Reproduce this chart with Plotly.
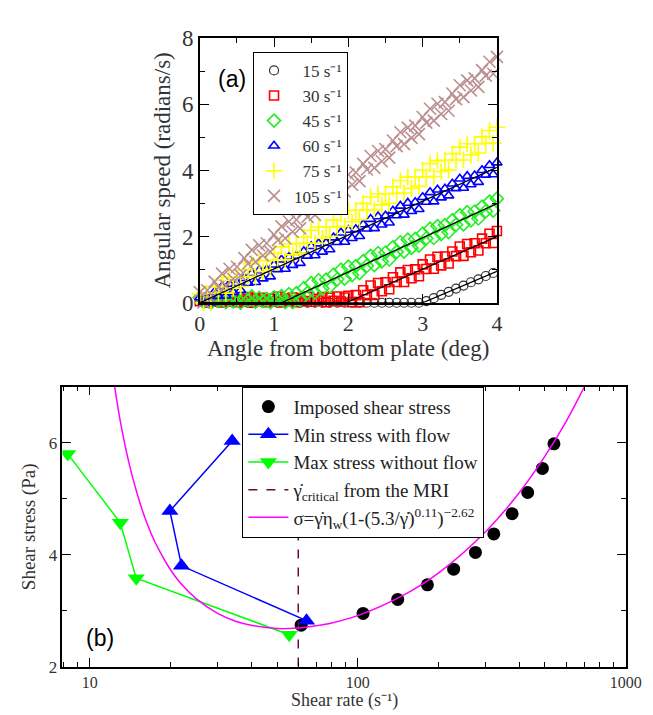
import plotly.graph_objects as go

# ---------------- Panel (a) data ----------------
angle = [round(0.05 * i, 2) for i in range(81)]
angle_15 = [round(0.05 + 0.1 * i, 2) for i in range(40)]

speed_15 = [0.0] * 30 + [0.05, 0.14, 0.24, 0.33, 0.43, 0.52, 0.62, 0.71, 0.81, 0.90]

speed_30 = [0.05, 0.14, 0.00, 0.10, 0.03, 0.16, 0.01, 0.12, 0.04, 0.15,
            0.02, 0.11, 0.05, 0.17, 0.00, 0.13, 0.06, 0.15, 0.02, 0.12,
            0.04, 0.18, 0.01, 0.13, 0.06, 0.16, 0.02, 0.14, 0.05, 0.18,
            0.03, 0.12, 0.07, 0.17, 0.02, 0.15, 0.06, 0.19, 0.04, 0.16,
            0.21, 0.02, 0.23, 0.02, 0.38, 0.23, 0.52, 0.24, 0.60, 0.35,
            0.62, 0.41, 0.77, 0.63, 0.92, 0.63, 0.99, 0.74, 1.01, 0.80,
            1.16, 1.02, 1.31, 1.03, 1.39, 1.13, 1.40, 1.19, 1.55, 1.41,
            1.70, 1.42, 1.78, 1.53, 1.80, 1.58, 1.94, 1.80, 2.09, 1.81, 2.17]

speed_45 = [0.16, 0.03, 0.12, 0.00, 0.15, 0.06, 0.18, 0.02, 0.14, 0.04,
            0.12, 0.00, 0.16, 0.07, 0.19, 0.03, 0.15, 0.05, 0.11, 0.01,
            0.16, 0.08, 0.20, 0.02, 0.26, 0.02, 0.29, 0.08, 0.44, 0.30,
            0.59, 0.31, 0.68, 0.43, 0.70, 0.49, 0.85, 0.71, 1.00, 0.73,
            1.09, 0.84, 1.11, 0.90, 1.26, 1.12, 1.42, 1.14, 1.50, 1.25,
            1.52, 1.31, 1.68, 1.54, 1.83, 1.55, 1.91, 1.66, 1.93, 1.73,
            2.09, 1.95, 2.24, 1.96, 2.32, 2.08, 2.35, 2.14, 2.50, 2.36,
            2.65, 2.37, 2.74, 2.49, 2.76, 2.55, 2.91, 2.77, 3.06, 2.79, 3.15]

speed_60 = [0.16, 0.00, 0.18, 0.00, 0.33, 0.20, 0.49, 0.21, 0.57, 0.32,
            0.59, 0.38, 0.74, 0.60, 0.89, 0.62, 0.98, 0.73, 1.00, 0.79,
            1.15, 1.01, 1.30, 1.02, 1.38, 1.14, 1.41, 1.20, 1.56, 1.42,
            1.71, 1.43, 1.79, 1.54, 1.81, 1.61, 1.97, 1.83, 2.12, 1.84,
            2.20, 1.95, 2.22, 2.01, 2.37, 2.24, 2.53, 2.25, 2.61, 2.36,
            2.63, 2.42, 2.78, 2.64, 2.93, 2.66, 3.02, 2.77, 3.04, 2.83,
            3.19, 3.05, 3.34, 3.06, 3.42, 3.18, 3.45, 3.24, 3.60, 3.46,
            3.75, 3.47, 3.83, 3.58, 3.85, 3.65, 4.01, 3.87, 4.16, 3.88, 4.24]

speed_75 = [0.27, 0.00, 0.28, 0.00, 0.48, 0.29, 0.68, 0.29, 0.77, 0.44,
            0.78, 0.49, 0.99, 0.79, 1.18, 0.80, 1.28, 0.94, 1.28, 1.00,
            1.49, 1.29, 1.69, 1.30, 1.78, 1.45, 1.79, 1.50, 1.99, 1.80,
            2.19, 1.80, 2.29, 1.95, 2.29, 2.01, 2.50, 2.30, 2.69, 2.31,
            2.79, 2.45, 2.80, 2.51, 3.00, 2.81, 3.20, 2.81, 3.29, 2.96,
            3.30, 3.01, 3.51, 3.31, 3.70, 3.32, 3.80, 3.46, 3.80, 3.52,
            4.01, 3.81, 4.21, 3.82, 4.30, 3.97, 4.31, 4.02, 4.51, 4.32,
            4.71, 4.32, 4.81, 4.47, 4.81, 4.53, 5.02, 4.82, 5.21, 4.83, 5.31]

speed_105 = [0.32, 0.01, 0.38, 0.12, 0.64, 0.47, 0.88, 0.52, 1.03, 0.72,
             1.09, 0.83, 1.35, 1.18, 1.60, 1.24, 1.74, 1.43, 1.80, 1.54,
             2.06, 1.89, 2.31, 1.95, 2.46, 2.15, 2.51, 2.25, 2.77, 2.60,
             3.02, 2.66, 3.17, 2.86, 3.23, 2.97, 3.48, 3.31, 3.73, 3.37,
             3.88, 3.57, 3.94, 3.68, 4.20, 4.03, 4.44, 4.08, 4.59, 4.28,
             4.65, 4.39, 4.91, 4.74, 5.16, 4.80, 5.30, 4.99, 5.36, 5.10,
             5.62, 5.45, 5.87, 5.51, 6.02, 5.71, 6.07, 5.81, 6.33, 6.16,
             6.58, 6.22, 6.73, 6.42, 6.79, 6.53, 7.04, 6.87, 7.29, 6.93, 7.44]

# black fit lines (angle, speed)
fit_60_x, fit_60_y = [0, 4], [0, 4.1]
fit_45_x, fit_45_y = [0, 1.1, 4], [0, 0, 3.0]
fit_30_x, fit_30_y = [0, 1.97, 4], [0, 0, 2.0]
fit_15_x, fit_15_y = [0, 3.0, 4], [0, 0, 0.95]

# ---------------- Panel (b) data ----------------
imposed_rate = [61.5, 104.7, 141, 182, 228, 275, 322, 377, 431, 489, 540]
imposed_stress = [2.74, 2.95, 3.20, 3.46, 3.74, 4.04, 4.37, 4.73, 5.11, 5.54, 5.98]

min_rate = [34, 19.9, 22, 64.4]
min_stress = [6.03, 4.78, 3.80, 2.82]

max_rate = [8.27, 13.0, 14.9, 55.5]
max_stress = [5.80, 4.57, 3.58, 2.57]

critical_rate = [60, 60]
critical_stress = [2, 7]

model_rate = [12, 12.3, 13, 14, 15, 16, 17, 18, 20, 22, 25, 30, 35, 40, 50, 60,
              70, 80, 100, 150, 200, 300, 400, 500, 600, 700, 720]
model_stress = [7.44, 7.09, 6.38, 5.64, 5.10, 4.68, 4.36, 4.11, 3.73, 3.47, 3.21,
                2.95, 2.81, 2.74, 2.68, 2.69, 2.73, 2.78, 2.91, 3.29, 3.67, 4.41,
                5.10, 5.76, 6.38, 6.99, 7.10]

SERIF = "Liberation Serif"
SANS = "Liberation Sans"
NB = "\u00a0\u00a0"
INV = " s\u207b\u00b9"

fig = go.Figure()

# ---- panel (a) traces ----
a_series = [
    (angle_15, speed_15, NB + "15" + INV, "circle-open", "#333333", 9, 1.2),
    (angle, speed_30, NB + "30" + INV, "square-open", "#ff0000", 9, 1.6),
    (angle, speed_45, NB + "45" + INV, "diamond-open", "#22ee22", 10, 1.6),
    (angle, speed_60, NB + "60" + INV, "triangle-up-open", "#0000ff", 9, 1.6),
    (angle, speed_75, NB + "75" + INV, "cross-thin-open", "#ffff00", 12, 1.6),
    (angle, speed_105, "105" + INV, "x-thin-open", "#bc8f8f", 12, 1.6),
]
for xs, ys, name, sym, col, sz, lw in a_series:
    fig.add_trace(go.Scatter(
        x=xs, y=ys, mode="markers", name=name, xaxis="x", yaxis="y",
        legend="legend", cliponaxis=False,
        marker=dict(symbol=sym, size=sz, color=col, line=dict(color=col, width=lw)),
    ))
for fx, fy in [(fit_60_x, fit_60_y), (fit_45_x, fit_45_y), (fit_30_x, fit_30_y), (fit_15_x, fit_15_y)]:
    fig.add_trace(go.Scatter(
        x=fx, y=fy, mode="lines", xaxis="x", yaxis="y", showlegend=False,
        line=dict(color="black", width=1.3),
    ))

# ---- panel (b) traces ----
fig.add_trace(go.Scatter(
    x=imposed_rate, y=imposed_stress, mode="markers", name="Imposed shear stress",
    xaxis="x2", yaxis="y2", legend="legend2",
    marker=dict(symbol="circle", size=13, color="black"),
))
fig.add_trace(go.Scatter(
    x=min_rate, y=min_stress, mode="lines+markers", name="Min stress with flow",
    xaxis="x2", yaxis="y2", legend="legend2",
    line=dict(color="#0000ff", width=1.5),
    marker=dict(symbol="triangle-up", size=15, color="#0000ff"),
))
fig.add_trace(go.Scatter(
    x=max_rate, y=max_stress, mode="lines+markers", name="Max stress without flow",
    xaxis="x2", yaxis="y2", legend="legend2",
    line=dict(color="#00ff00", width=1.5),
    marker=dict(symbol="triangle-down", size=15, color="#00ff00"),
))
fig.add_trace(go.Scatter(
    x=critical_rate, y=critical_stress, mode="lines",
    name="\u03b3\u0307<sub>critical</sub> from the MRI",
    xaxis="x2", yaxis="y2", legend="legend2",
    line=dict(color="#670748", width=1.5, dash="dash"),
))
fig.add_trace(go.Scatter(
    x=model_rate, y=model_stress, mode="lines",
    name="\u03c3=\u03b3\u0307\u03b7<sub>w</sub>(1-(5.3/\u03b3\u0307)<sup>0.11</sup>)<sup>\u22122.62</sup>",
    xaxis="x2", yaxis="y2", legend="legend2",
    line=dict(color="#ff00ff", width=1.5, shape="spline"),
))

W, H = 653, 715


def px(x):
    return x / W


def py(y):
    return 1 - y / H


axis_common = dict(
    showline=True, linecolor="black", linewidth=1.5, mirror="allticks",
    ticks="inside", ticklen=9, tickwidth=1.2, tickcolor="black",
    showgrid=False, zeroline=False,
)


def ann(text, x, y, size, family=SERIF, angle=0, color="#333333"):
    return dict(text=text, x=px(x), y=py(y), xref="paper", yref="paper",
                xanchor="center", yanchor="middle", textangle=angle,
                showarrow=False, font=dict(family=family, size=size, color=color))


fig.update_layout(
    width=W, height=H, margin=dict(l=0, r=0, t=0, b=0),
    paper_bgcolor="white", plot_bgcolor="white",
    xaxis=dict(domain=[px(193), px(500)], range=[0, 4], dtick=1, anchor="y",
               tickfont=dict(family=SERIF, size=22, color="#333333"),
               minor=dict(dtick=0.5, ticks="inside", ticklen=5, tickcolor="black"),
               **axis_common),
    yaxis=dict(domain=[py(293), py(19)], range=[0, 8], dtick=2, anchor="x",
               tickfont=dict(family=SERIF, size=23, color="#333333"),
               minor=dict(dtick=1, ticks="inside", ticklen=5, tickcolor="black"),
               **axis_common),
    xaxis2=dict(domain=[px(51), px(633)], type="log", range=[0.8976, 3.0], anchor="y2",
                tickvals=[10, 100, 1000], ticktext=["10", "100", "1000"],
                tickfont=dict(family=SERIF, size=16, color="#333333"),
                minor=dict(dtick="D1", ticks="inside", ticklen=5, tickcolor="black"),
                **axis_common),
    yaxis2=dict(domain=[py(670), py(380)], range=[2, 7], tick0=2, dtick=2, anchor="x2",
                tickfont=dict(family=SERIF, size=17, color="#333333"),
                minor=dict(dtick=1, ticks="inside", ticklen=5, tickcolor="black"),
                **axis_common),
    legend=dict(x=px(248), y=py(33), xanchor="left", yanchor="top",
                bgcolor="white", bordercolor="black", borderwidth=1,
                font=dict(family=SERIF, size=17, color="#333333"),
                tracegroupgap=0, itemwidth=30),
    legend2=dict(x=px(237), y=py(380), xanchor="left", yanchor="top",
                 bgcolor="white", bordercolor="black", borderwidth=1,
                 font=dict(family=SERIF, size=19, color="#222222"),
                 tracegroupgap=0, itemwidth=40),
    annotations=[
        ann("Angular speed (radians/s)", 155, 156, 23, angle=-90),
        ann("Angle from bottom plate (deg)", 346, 340, 23),
        ann("(a)", 226, 61, 23, family=SANS, color="black"),
        ann("Shear stress (Pa)", 16, 525, 19, angle=-90),
        ann("Shear rate (s\u207b\u00b9)", 342, 705, 18),
        ann("(b)", 90, 640, 23, family=SANS, color="black"),
    ],
)

fig.write_html("out.html")
